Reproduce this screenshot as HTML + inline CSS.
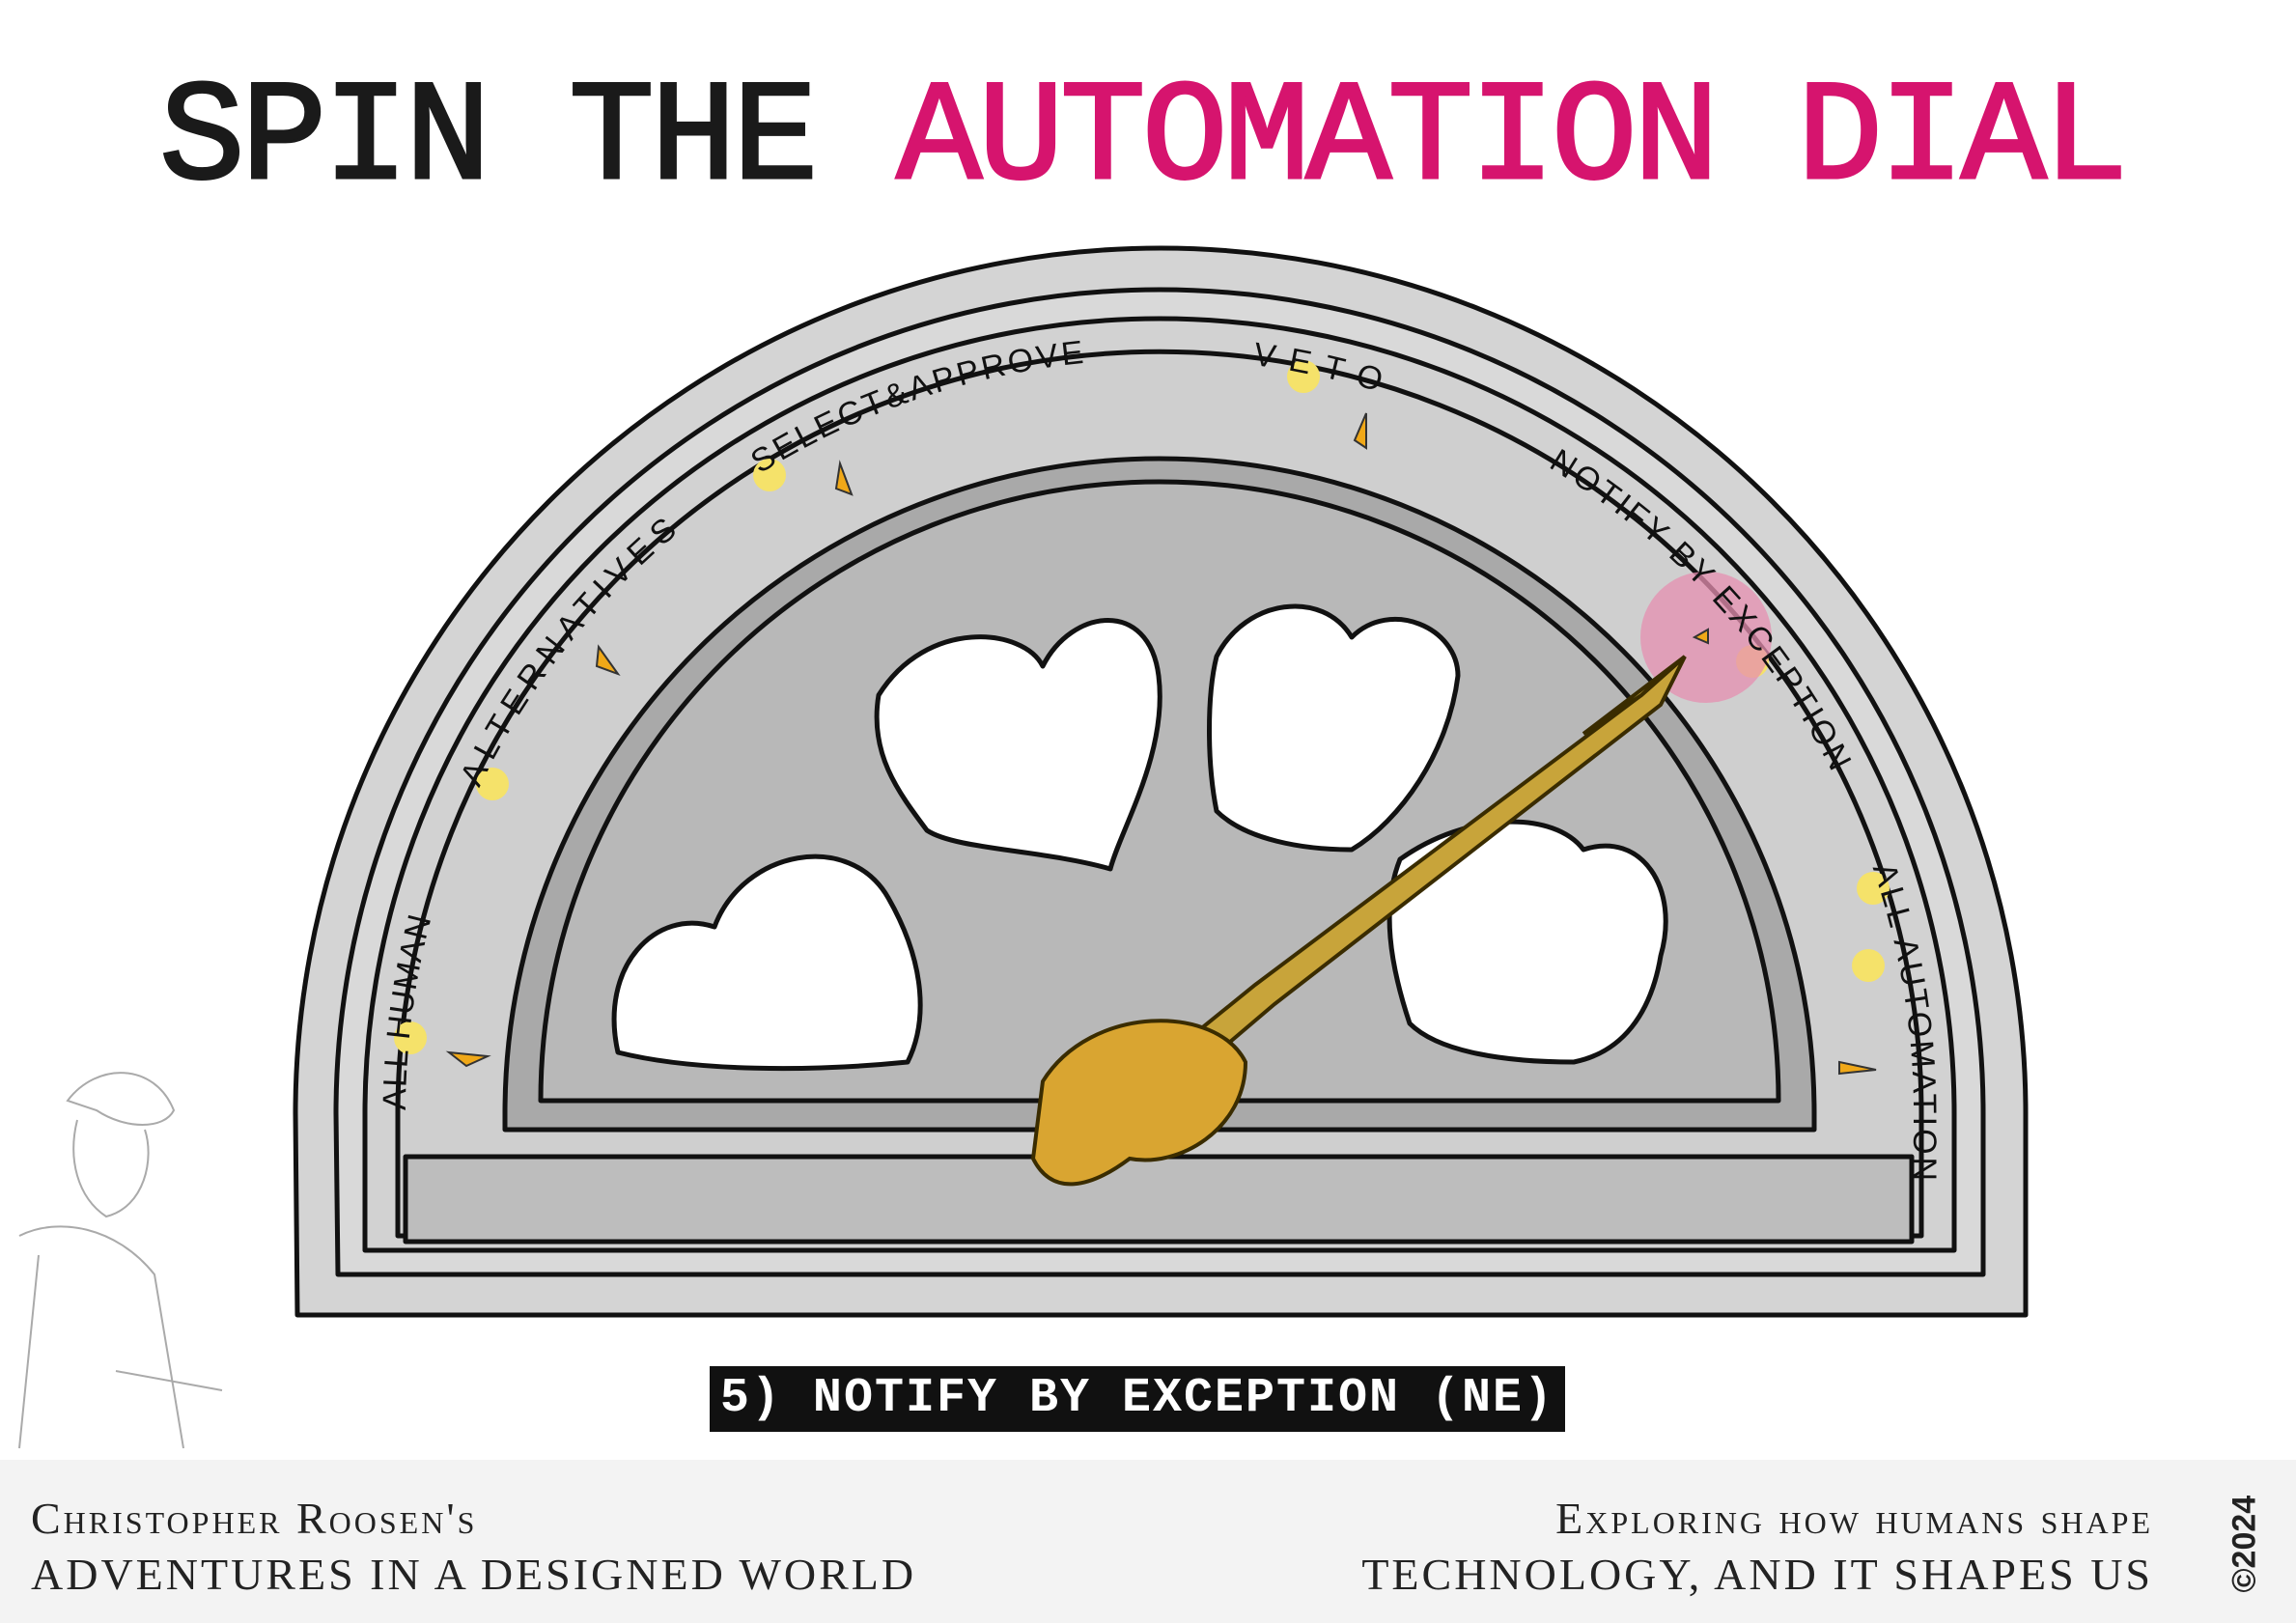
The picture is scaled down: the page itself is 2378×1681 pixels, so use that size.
<!DOCTYPE html>
<html><head><meta charset="utf-8"><style>
html,body{margin:0;padding:0;background:#fff;}
body{width:2378px;height:1681px;position:relative;overflow:hidden;font-family:"Liberation Mono",monospace;}
.title{position:absolute;left:165px;top:72px;font-size:148px;font-weight:normal;letter-spacing:-4px;white-space:nowrap;color:#1a1a1a;line-height:1;-webkit-text-stroke:3px #1a1a1a;}
.title span{color:#d6146e;-webkit-text-stroke:3px #d6146e;}
.bar{position:absolute;left:735px;top:1415px;width:886px;height:68px;background:#111;color:#fff;font-weight:bold;font-size:50px;line-height:68px;text-align:center;letter-spacing:2px;}
.footer{position:absolute;left:0;top:1512px;width:2378px;height:169px;background:#f3f3f3;}
.fl{position:absolute;left:32px;top:32px;font-family:"Liberation Serif",serif;font-size:46px;line-height:58px;color:#222;font-variant:small-caps;letter-spacing:3px;}
.fr{position:absolute;right:148px;top:32px;text-align:right;font-family:"Liberation Serif",serif;font-size:46px;line-height:58px;color:#222;font-variant:small-caps;letter-spacing:3px;}
.copy{position:absolute;left:2285px;top:1590px;transform:rotate(-90deg);transform-origin:center;font-family:"Liberation Sans",sans-serif;font-size:34px;font-weight:bold;color:#222;width:80px;}
</style></head><body>
<div class="title">SPIN THE <span>AUTOMATION DIAL</span></div>
<svg width="2378" height="1681" viewBox="0 0 2378 1681" style="position:absolute;left:0;top:0">
<g stroke="#111" stroke-width="5" stroke-linejoin="round">
<path d="M308 1362 L306 1153 A895 895 0 0 1 2098 1153 L2098 1362 Z" fill="#d4d4d4"/>
<path d="M350 1320 L348 1153 A853 853 0 0 1 2054 1153 L2054 1320 Z" fill="#d9d9d9"/>
<path d="M378 1295 L378 1153 A823 823 0 0 1 2024 1153 L2024 1295 Z" fill="#d2d2d2"/>
<path d="M412 1280 L412 1153 A740 740 0 0 1 1990 1153 L1990 1280 Z" fill="#cfcfcf"/>
<path d="M523 1170 L523 1153 A678 678 0 0 1 1879 1153 L1879 1170 Z" fill="#a9a9a9"/>
<path d="M560 1140 A641 641 0 0 1 1842 1140 Z" fill="#b8b8b8"/>
<rect x="420" y="1198" width="1560" height="88" fill="#bdbdbd"/>
<path d="M640 1090 C620 1000 680 940 740 960 C770 880 880 860 920 930 C960 1000 960 1060 940 1100 C840 1110 720 1110 640 1090 Z" fill="#fff"/>
<path d="M910 720 C960 640 1060 650 1080 690 C1110 630 1190 620 1200 700 C1210 780 1160 860 1150 900 C1080 880 990 880 960 860 C930 820 900 780 910 720 Z" fill="#fff"/>
<path d="M1260 680 C1290 620 1370 610 1400 660 C1440 620 1510 650 1510 700 C1500 780 1450 850 1400 880 C1350 880 1290 870 1260 840 C1250 790 1250 720 1260 680 Z" fill="#fff"/>
<path d="M1450 890 C1520 840 1610 840 1640 880 C1700 860 1740 920 1720 990 C1710 1050 1680 1090 1630 1100 C1560 1100 1490 1090 1460 1060 C1440 1000 1430 940 1450 890 Z" fill="#fff"/>
</g>
<path id="arc" d="M420 1190 L420 1153 A781 781 0 0 1 1982 1153 L1982 1260" fill="none"/>
<g fill="#f5e26a">
<circle cx="425" cy="1075" r="17"/><circle cx="510" cy="812" r="17"/><circle cx="797" cy="492" r="17"/>
<circle cx="1350" cy="390" r="17"/><circle cx="1815" cy="685" r="17"/><circle cx="1940" cy="920" r="17"/><circle cx="1935" cy="1000" r="17"/>
</g>
<circle cx="1767" cy="660" r="68" fill="#e58fb0" opacity="0.75"/>
<g font-family="Liberation Sans,sans-serif" font-size="34" fill="#111">
<text letter-spacing="1"><textPath href="#arc" startOffset="40">ALL HUMAN</textPath></text>
<text letter-spacing="8"><textPath href="#arc" startOffset="385">ALTERNATIVES</textPath></text>
<text letter-spacing="3"><textPath href="#arc" startOffset="827">SELECT&amp;APPROVE</textPath></text>
<text letter-spacing="14"><textPath href="#arc" startOffset="1360">VETO</textPath></text>
<text letter-spacing="3"><textPath href="#arc" startOffset="1686">NOTIFY BY EXCEPTION</textPath></text>
<text letter-spacing="3"><textPath href="#arc" startOffset="2231">ALL AUTOMATION</textPath></text>
</g>
<g fill="#f0a818" stroke="#333" stroke-width="2">
<path d="M465 1090 l40 4 l-22 10 z"/><path d="M620 670 l20 28 l-22 -8 z"/><path d="M870 480 l12 32 l-16 -6 z"/>
<path d="M1415 428 l0 36 l-12 -8 z"/><path d="M1755 660 l14 -8 l0 14 z"/><path d="M1905 1100 l38 8 l-38 4 z"/>
</g>
<g stroke="#3a2c00" stroke-width="4">
<path d="M1090 1190 L1300 1020 L1700 720 L1745 680 L1720 730 L1320 1040 L1120 1210 Z" fill="#c8a43a"/>
<path d="M1080 1120 C1130 1040 1260 1040 1290 1100 C1290 1170 1220 1210 1170 1200 C1130 1230 1090 1240 1070 1200 Z" fill="#d9a531"/>
<path d="M1700 720 L1745 680 L1640 760 Z" fill="#e0c050"/>
</g>
<g stroke="#aaa" stroke-width="2" fill="none">
<path d="M70 1140 C100 1100 160 1100 180 1150 C170 1170 130 1170 100 1150 Z"/>
<path d="M80 1160 C70 1200 80 1240 110 1260 C150 1250 160 1200 150 1170"/>
<path d="M20 1280 C60 1260 120 1270 160 1320 L190 1500 M40 1300 L20 1500 M120 1420 L230 1440"/>
</g>
</svg>
<div class="bar">5) NOTIFY BY EXCEPTION (NE)</div>
<div class="footer">
<div class="fl">Christopher Roosen's<br>ADVENTURES IN A DESIGNED WORLD</div>
<div class="fr">Exploring how humans shape<br>TECHNOLOGY, AND IT SHAPES US</div>
</div>
<div class="copy">©2024</div>
</body></html>
